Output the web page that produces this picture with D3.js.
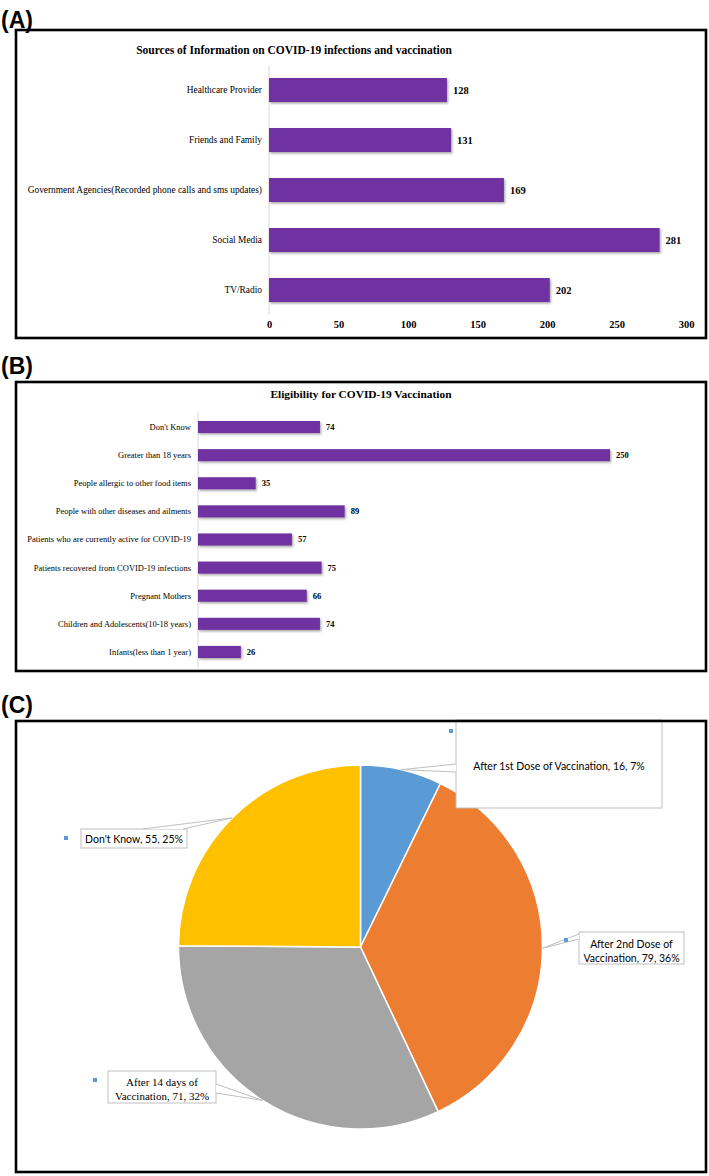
<!DOCTYPE html>
<html><head><meta charset="utf-8">
<script src="https://cdn.jsdelivr.net/npm/d3@7"></script>
<style>html,body{margin:0;padding:0;background:#fff;}svg{display:block;}</style>
</head><body>
<svg id="chart" width="709" height="1176"></svg>
<script>
// ---------- DATA ----------
const sourcesTitle = "Sources of Information on COVID-19 infections and vaccination";
const sourcesCategories = ["Healthcare Provider", "Friends and Family", "Government Agencies(Recorded phone calls and sms updates)", "Social Media", "TV/Radio"];
const sourcesValues = [128, 131, 169, 281, 202];
const sourcesTicks = [0, 50, 100, 150, 200, 250, 300];

const eligibilityTitle = "Eligibility for COVID-19 Vaccination";
const eligibilityCategories = ["Don't Know", "Greater than 18 years", "People allergic to other food items", "People with other diseases and ailments", "Patients who are currently active for COVID-19", "Patients recovered from COVID-19 infections", "Pregnant Mothers", "Children and Adolescents(10-18 years)", "Infants(less than 1 year)"];
const eligibilityValues = [74, 250, 35, 89, 57, 75, 66, 74, 26];

const timingCategories = ["After 1st Dose of Vaccination", "After 2nd Dose of Vaccination", "After 14 days of Vaccination", "Don't Know"];
const timingValues = [16, 79, 71, 55];
const timingColors = ["#5B9BD5", "#ED7D31", "#A5A5A5", "#FFC000"];

// ---------- SETUP ----------
const svg = d3.select("#chart");
const serif = "'Liberation Serif','Times New Roman',serif";
const sans = "'Liberation Sans',Arial,sans-serif";
const purple = "#7030A0";

const defs = svg.append("defs");
const f = defs.append("filter").attr("id", "shadow").attr("x", "-5%").attr("y", "-30%").attr("width", "115%").attr("height", "180%");
f.append("feDropShadow").attr("dx", 1.2).attr("dy", 1.5).attr("stdDeviation", 0.9).attr("flood-color", "#000").attr("flood-opacity", 0.35);

function panelLabel(txt, x, y) {
  svg.append("text").attr("x", x).attr("y", y).attr("font-family", sans).attr("font-weight", "bold")
    .attr("font-size", 23).attr("fill", "#000").text(txt);
}
function frame(x0, y0, x1, y1) {
  svg.append("rect").attr("x", x0).attr("y", y0).attr("width", x1 - x0).attr("height", y1 - y0)
    .attr("fill", "none").attr("stroke", "#000").attr("stroke-width", 2.6);
}

// ---------- PANEL A ----------
panelLabel("(A)", 1, 28);
const gA = svg.append("g");
const xA = d3.scaleLinear().domain([0, 300]).range([269, 686]);
const yA = d3.scaleBand().domain(sourcesCategories).range([65, 315]).paddingInner(0.52).paddingOuter(0.26);

gA.append("text").attr("x", 294).attr("y", 54).attr("text-anchor", "middle").attr("font-family", serif)
  .attr("font-weight", "bold").attr("font-size", 11.5).text(sourcesTitle);

gA.append("line").attr("x1", xA(0)).attr("x2", xA(0)).attr("y1", 65).attr("y2", 315)
  .attr("stroke", "#D9D9D9").attr("stroke-width", 1);

gA.selectAll("rect.bar").data(sourcesValues).join("rect").attr("class", "bar")
  .attr("x", xA(0)).attr("y", (d, i) => yA(sourcesCategories[i]))
  .attr("width", d => xA(d) - xA(0)).attr("height", yA.bandwidth())
  .attr("fill", purple).attr("filter", "url(#shadow)");

gA.selectAll("text.val").data(sourcesValues).join("text").attr("class", "val")
  .attr("x", d => xA(d) + 6).attr("y", (d, i) => yA(sourcesCategories[i]) + yA.bandwidth() / 2)
  .attr("dy", "0.35em").attr("font-family", serif).attr("font-weight", "bold").attr("font-size", 10.5).text(d => d);

gA.selectAll("text.cat").data(sourcesCategories).join("text").attr("class", "cat")
  .attr("x", xA(0) - 7).attr("y", d => yA(d) + yA.bandwidth() / 2).attr("dy", "0.35em")
  .attr("text-anchor", "end").attr("font-family", serif).attr("font-size", 9.4).text(d => d);

const axA = gA.append("g").attr("transform", "translate(0,318)")
  .call(d3.axisBottom(xA).tickValues(sourcesTicks).tickSize(0).tickPadding(3));
axA.select(".domain").remove();
axA.selectAll("text").attr("font-family", serif).attr("font-weight", "bold").attr("font-size", 10.5).attr("fill", "#000");

frame(16, 30, 706, 338);

// ---------- PANEL B ----------
panelLabel("(B)", 1, 374);
const gB = svg.append("g");
const xB = d3.scaleLinear().domain([0, 250]).range([198, 610]);
const yB = d3.scaleBand().domain(eligibilityCategories).range([413, 666]).paddingInner(0.57).paddingOuter(0.285);

gB.append("text").attr("x", 361).attr("y", 398).attr("text-anchor", "middle").attr("font-family", serif)
  .attr("font-weight", "bold").attr("font-size", 11.4).text(eligibilityTitle);

gB.append("line").attr("x1", xB(0)).attr("x2", xB(0)).attr("y1", 412).attr("y2", 668)
  .attr("stroke", "#D9D9D9").attr("stroke-width", 1);

gB.selectAll("rect.bar").data(eligibilityValues).join("rect").attr("class", "bar")
  .attr("x", xB(0)).attr("y", (d, i) => yB(eligibilityCategories[i]))
  .attr("width", d => xB(d) - xB(0)).attr("height", yB.bandwidth())
  .attr("fill", purple).attr("filter", "url(#shadow)");

gB.selectAll("text.val").data(eligibilityValues).join("text").attr("class", "val")
  .attr("x", d => xB(d) + 6).attr("y", (d, i) => yB(eligibilityCategories[i]) + yB.bandwidth() / 2)
  .attr("dy", "0.35em").attr("font-family", serif).attr("font-weight", "bold").attr("font-size", 8.5).text(d => d);

gB.selectAll("text.cat").data(eligibilityCategories).join("text").attr("class", "cat")
  .attr("x", xB(0) - 7).attr("y", d => yB(d) + yB.bandwidth() / 2).attr("dy", "0.35em")
  .attr("text-anchor", "end").attr("font-family", serif).attr("font-size", 8.5).text(d => d);

frame(16, 382, 706, 671);

// ---------- PANEL C ----------
panelLabel("(C)", 1, 713);
const gC = svg.append("g");
const cx = 360.5, cy = 947, R = 182;
const total = d3.sum(timingValues);
const pie = d3.pie().sort(null).value(d => d)(timingValues);
const arc = d3.arc().innerRadius(0).outerRadius(R);
const edge = d3.arc().innerRadius(R).outerRadius(R);

const pieG = gC.append("g").attr("transform", `translate(${cx},${cy})`);
pieG.selectAll("path").data(pie).join("path").attr("d", arc)
  .attr("fill", (d, i) => timingColors[i]).attr("stroke", "#fff").attr("stroke-width", 1.5);

const pct = i => Math.round(timingValues[i] / total * 100) + "%";
const labelText = timingCategories.map((c, i) => `${c}, ${timingValues[i]}, ${pct(i)}`);

// callout boxes [x0,y0,x1,y1], wedge base points, text lines, font, marker position
const callouts = [
  { box: [456, 720, 662, 808], base: [[456, 764], [456, 772]], lines: [labelText[0]], font: "Lato, sans-serif", size: 10.5, ty: [766], mk: [449, 729] },
  { box: [579, 932, 684, 964], base: [[579, 934], [579, 939]], lines: ["After 2nd Dose of", `Vaccination, ${timingValues[1]}, ${pct(1)}`], font: "Lato, sans-serif", size: 10.5, ty: [944, 958], mk: [564, 938] },
  { box: [108, 1071, 216, 1103], base: [[216, 1084], [216, 1093]], lines: ["After 14 days of", `Vaccination, ${timingValues[2]}, ${pct(2)}`], font: serif, size: 11, ty: [1082, 1096], mk: [93, 1078] },
  { box: [81, 829, 187, 848], base: [[143, 829], [183, 829]], lines: [labelText[3]], font: "Lato, sans-serif", size: 10.5, ty: [839], mk: [64, 836] }
];

callouts.forEach((c, i) => {
  const tip = edge.centroid(pie[i]);
  const tx = tip[0] + cx, ty = tip[1] + cy;
  gC.append("rect").attr("x", c.box[0]).attr("y", c.box[1]).attr("width", c.box[2] - c.box[0]).attr("height", c.box[3] - c.box[1])
    .attr("fill", "#fff").attr("stroke", "#BFBFBF").attr("stroke-width", 1);
  gC.append("path").attr("d", `M${c.base[0][0]},${c.base[0][1]}L${tx},${ty}L${c.base[1][0]},${c.base[1][1]}`)
    .attr("fill", "#fff").attr("stroke", "#BFBFBF").attr("stroke-width", 1);
  const mx = (c.box[0] + c.box[2]) / 2;
  c.lines.forEach((ln, j) => {
    gC.append("text").attr("x", mx).attr("y", c.ty[j]).attr("dy", "0.35em").attr("text-anchor", "middle")
      .attr("font-family", c.font).attr("font-size", c.size).attr("fill", "#000").text(ln);
  });
  gC.append("rect").attr("x", c.mk[0]).attr("y", c.mk[1]).attr("width", 4).attr("height", 4).attr("fill", "#5B9BD5");
});

frame(16, 721, 706, 1172);
</script>
</body></html>
